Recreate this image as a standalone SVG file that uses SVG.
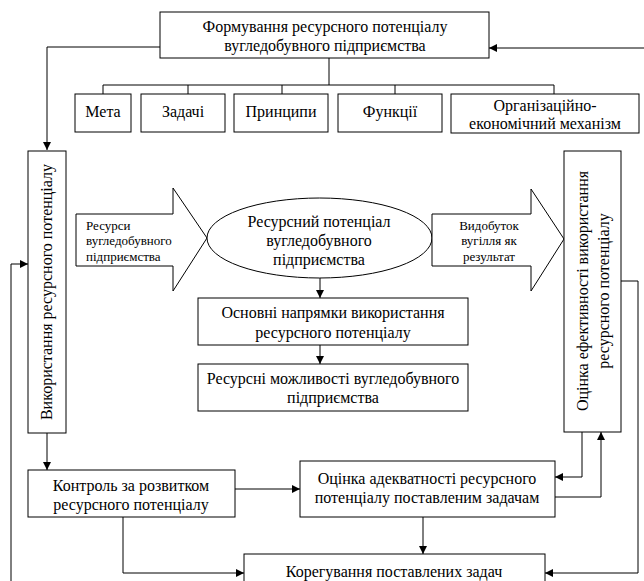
<svg xmlns="http://www.w3.org/2000/svg" width="644" height="581" viewBox="0 0 644 581">
<style>
.b{fill:#fff;stroke:#000;stroke-width:1}
.t{font-family:'Liberation Serif','Times New Roman','DejaVu Serif',serif;font-size:16px;fill:#000;text-anchor:middle}
.s{font-family:'Liberation Serif','Times New Roman','DejaVu Serif',serif;font-size:13px;fill:#000}
.c{fill:none;stroke:#000;stroke-width:1}
</style>
<defs>
<marker id="a" markerUnits="userSpaceOnUse" markerWidth="10" markerHeight="8" refX="8" refY="4" orient="auto">
<path d="M0,0 L8,4 L0,8 z" fill="#000"/>
</marker>
</defs>
<rect width="644" height="581" fill="#fff"/>

<g id="connectors">
<polyline class="c" points="160,47 47,47 47,150" marker-end="url(#a)"/>
<polyline class="c" points="644,48 489,48" marker-end="url(#a)"/>
<polyline class="c" points="329,58 329,85"/>
<polyline class="c" points="103,94 103,85 554,85 554,94"/>
<line class="c" x1="188" y1="85" x2="188" y2="94"/>
<line class="c" x1="282" y1="85" x2="282" y2="94"/>
<line class="c" x1="395" y1="85" x2="395" y2="94"/>
<polyline class="c" points="11,581 11,264 28,264" marker-end="url(#a)"/>
<polyline class="c" points="47,433 47,470" marker-end="url(#a)"/>
<polyline class="c" points="320,278 320,298" marker-end="url(#a)"/>
<polyline class="c" points="320,345 320,364" marker-end="url(#a)"/>
<polyline class="c" points="235,489 300,489" marker-end="url(#a)"/>
<polyline class="c" points="123,517 123,573 244,573" marker-end="url(#a)"/>
<polyline class="c" points="423,517 423,554" marker-end="url(#a)"/>
<polyline class="c" points="582,432 582,477 555,477" marker-end="url(#a)"/>
<polyline class="c" points="555,497 601,497 601,432" marker-end="url(#a)"/>
<polyline class="c" points="620,281 638,281 638,573 545,573" marker-end="url(#a)"/>
</g>

<g id="formation">
<rect class="b" x="160" y="12" width="329" height="46"/>
<text class="t" x="325" y="32">Формування ресурсного потенціалу</text>
<text class="t" x="325" y="51">вугледобувного підприємства</text>
</g>
<g id="meta">
<rect class="b" x="75" y="94" width="56" height="38"/>
<text class="t" x="103" y="117">Мета</text>
</g>
<g id="zadachi">
<rect class="b" x="141" y="94" width="84" height="38"/>
<text class="t" x="183" y="117">Задачі</text>
</g>
<g id="pryntsypy">
<rect class="b" x="234" y="94" width="94" height="38"/>
<text class="t" x="281" y="117">Принципи</text>
</g>
<g id="funktsii">
<rect class="b" x="338" y="94" width="104" height="38"/>
<text class="t" x="390" y="117">Функції</text>
</g>
<g id="mekhanizm">
<rect class="b" x="451" y="94" width="188" height="39"/>
<text class="t" x="545" y="111">Організаційно-</text>
<text class="t" x="545" y="129">економічний механізм</text>
</g>

<g id="vykorystannia">
<rect class="b" x="28" y="151" width="38" height="282"/>
<text class="t" transform="translate(52,292) rotate(-90)">Використання ресурсного потенціалу</text>
</g>

<g id="resources-arrow">
<polygon class="b" points="76,214 173,214 173,188 207,238 173,291 173,266 76,266"/>
<text class="s" x="86" y="230">Ресурси</text>
<text class="s" x="86" y="245">вугледобувного</text>
<text class="s" x="86" y="261">підприємства</text>
</g>

<g id="potential">
<ellipse class="b" cx="319.5" cy="238" rx="112.5" ry="40"/>
<text class="t" x="319" y="227">Ресурсний потенціал</text>
<text class="t" x="319" y="246">вугледобувного</text>
<text class="t" x="319" y="265">підприємства</text>
</g>

<g id="output-arrow">
<polygon class="b" points="432,214 531,214 531,189 564,239 531,291 531,266 432,266"/>
<text class="s" x="489" y="230" text-anchor="middle">Видобуток</text>
<text class="s" x="489" y="245" text-anchor="middle">вугілля як</text>
<text class="s" x="489" y="261" text-anchor="middle">результат</text>
</g>

<g id="napriamky">
<rect class="b" x="198" y="298" width="270" height="47"/>
<text class="t" x="333" y="318">Основні напрямки використання</text>
<text class="t" x="333" y="338">ресурсного потенціалу</text>
</g>
<g id="mozhlyvosti">
<rect class="b" x="198" y="364" width="270" height="47"/>
<text class="t" x="333" y="384">Ресурсні можливості вугледобувного</text>
<text class="t" x="333" y="403">підприємства</text>
</g>

<g id="efektyvnist">
<rect class="b" x="564" y="151" width="57" height="281"/>
<text class="t" transform="translate(588,291) rotate(-90)">Оцінка ефективності використання</text>
<text class="t" transform="translate(609,291) rotate(-90)">ресурсного потенціалу</text>
</g>

<g id="kontrol">
<rect class="b" x="28" y="470" width="207" height="47"/>
<text class="t" x="131" y="491">Контроль за розвитком</text>
<text class="t" x="131" y="510">ресурсного потенціалу</text>
</g>
<g id="adekvatnist">
<rect class="b" x="300" y="461" width="255" height="56"/>
<text class="t" x="427" y="484">Оцінка адекватності ресурсного</text>
<text class="t" x="427" y="503">потенціалу поставленим задачам</text>
</g>
<g id="koryguvannia">
<rect class="b" x="244" y="554" width="301" height="40"/>
<text class="t" x="394" y="577">Корегування поставлених задач</text>
</g>
</svg>
